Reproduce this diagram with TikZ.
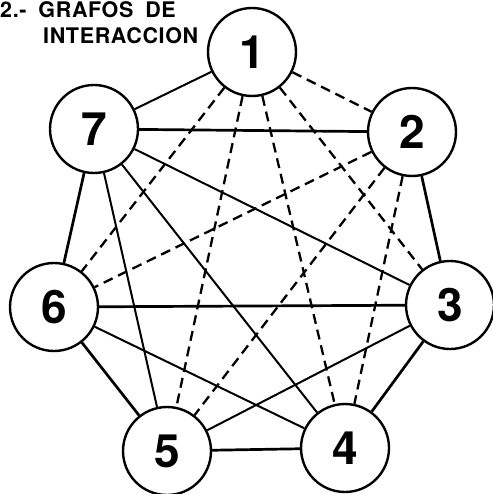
\documentclass[tikz,border=0pt]{standalone}
\usepackage{fontspec}
\setmainfont{TeX Gyre Heros}
\newfontfamily\rotulo[LetterSpace=3,WordSpace=1.8]{TeX Gyre Heros}
\begin{document}
\begin{tikzpicture}[x=1pt,y=-1pt,
  nodo/.style={draw,circle,line width=2.4pt,minimum size=88pt,inner sep=0pt,font=\fontsize{46}{46}\bfseries\selectfont},
  arista/.style={line width=2pt},
  gruesa/.style={line width=2.7pt},
  discont/.style={line width=2.3pt,dash pattern=on 10pt off 6pt},
  titulo/.style={anchor=base west,inner sep=0pt,font=\fontsize{21.5}{21.5}\rotulo\bfseries\selectfont}]
  \useasboundingbox (0,0) rectangle (492,494);
  % titulo
  \node[titulo] (tit1) at (0,18) {2.- GRAFOS DE};
  \node[titulo] (tit2) at (43,44) {INTERACCION};
  % nodos
  \node[nodo] (n1) at (252,52) {1};
  \node[nodo] (n2) at (412,132) {2};
  \node[nodo] (n3) at (450,305) {3};
  \node[nodo] (n4) at (345,448) {4};
  \node[nodo] (n5) at (167,451) {5};
  \node[nodo] (n6) at (54,307) {6};
  \node[nodo] (n7) at (94,129) {7};
  % aristas
  \foreach \a/\b in {n1/n7,n7/n3,n7/n4,n7/n5,n6/n4,n5/n3}
    \draw[arista] (\a) -- (\b);
  \foreach \a/\b in {n7/n2,n7/n6,n2/n3,n6/n3,n6/n5,n5/n4,n4/n3}
    \draw[gruesa] (\a) -- (\b);
  \foreach \a/\b in {n1/n2,n1/n6,n1/n5,n1/n4,n1/n3,n2/n6,n2/n5,n2/n4}
    \draw[discont] (\a) -- (\b);
\end{tikzpicture}
\end{document}
